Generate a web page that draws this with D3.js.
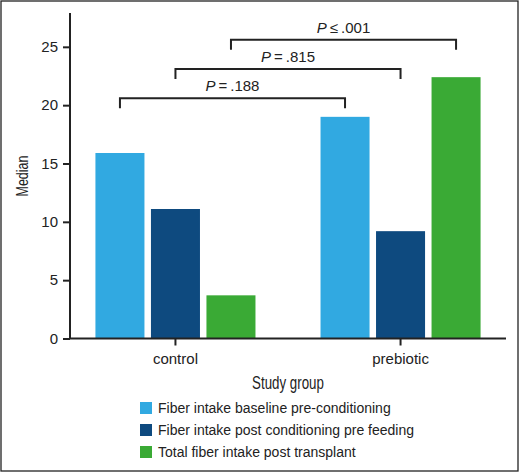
<!DOCTYPE html>
<html>
<head>
<meta charset="utf-8">
<script src="https://cdn.jsdelivr.net/npm/d3@7"></script>
<style>
  html, body { margin: 0; padding: 0; background: #fff; }
  svg { display: block; font-family: "Liberation Sans", Arial, Helvetica, sans-serif; }
</style>
</head>
<body>
<svg id="chart" width="520" height="473"></svg>
<script>
// data
var groups = ["control", "prebiotic"];
var seriesNames = [
  "Fiber intake baseline pre-conditioning",
  "Fiber intake post conditioning pre feeding",
  "Total fiber intake post transplant"
];
var baseline = [15.9, 19.0];
var postConditioning = [11.1, 9.2];
var postTransplant = [3.7, 22.4];
var yTicks = [0, 5, 10, 15, 20, 25];
var colors = ["#31a9e1", "#0e4a7f", "#3aaa35"];

// comparisons: series index, bracket level (median units), label
var compSeries = [0, 1, 2];
var compLevels = [20.6, 23.1, 25.6];
var compOps = ["=", "=", "\u2264"];
var compValues = [".188", ".815", ".001"];

(function(){
var svg = d3.select("#chart");

// outer frame
svg.append("rect")
   .attr("x", 1).attr("y", 1)
   .attr("width", 517).attr("height", 470)
   .attr("fill", "none").attr("stroke", "#222").attr("stroke-width", 1.3);

var plotLeft = 70, plotRight = 506, plotTop = 13, plotBottom = 338.5;

var y = d3.scaleLinear().domain([0, 27.9]).range([plotBottom, plotTop]);
var x0 = d3.scaleBand().domain(groups).range([plotLeft, plotRight])
           .paddingInner(0.289).paddingOuter(0.113);
var x1 = d3.scaleBand().domain(d3.range(seriesNames.length))
           .range([0, x0.bandwidth()]).paddingInner(0.117);

var values = [baseline, postConditioning, postTransplant];
var cells = [];
groups.forEach(function(g, gi){
  values.forEach(function(s, si){
    cells.push({group: g, series: si, value: s[gi]});
  });
});

svg.append("g").selectAll("rect").data(cells).enter()
   .append("rect")
   .attr("x", function(d){ return x0(d.group) + x1(d.series); })
   .attr("y", function(d){ return y(d.value); })
   .attr("width", x1.bandwidth())
   .attr("height", function(d){ return y(0) - y(d.value); })
   .attr("fill", function(d){ return colors[d.series]; });

// y axis
var yAxis = svg.append("g")
   .attr("transform", "translate(" + plotLeft + ",0)")
   .call(d3.axisLeft(y).tickValues(yTicks).tickSize(7).tickPadding(5));
yAxis.select(".domain").attr("d", "M0," + plotTop + "V" + plotBottom);

// x axis
var xAxis = svg.append("g")
   .attr("transform", "translate(0," + plotBottom + ")")
   .call(d3.axisBottom(x0).tickSize(7).tickPadding(6));
xAxis.select(".domain").attr("d", "M" + plotLeft + ",0H" + plotRight);

svg.selectAll(".tick text").attr("font-size", 15).attr("fill", "#222")
   .style("font-family", "inherit");
svg.selectAll(".domain, .tick line").attr("stroke", "#222").attr("stroke-width", 2);
xAxis.selectAll(".tick text").attr("dy", "0.85em");

// axis titles (condensed look via horizontal squeeze)
svg.append("text")
   .attr("transform", "translate(28,176) rotate(-90) scale(0.78,1)")
   .attr("text-anchor", "middle")
   .attr("font-size", 16).attr("fill", "#222")
   .text("Median");

svg.append("text")
   .attr("transform", "translate(288,389) scale(0.74,1)")
   .attr("text-anchor", "middle")
   .attr("font-size", 18).attr("fill", "#222")
   .text("Study group");

// significance brackets
var barCenter = function(g, si){ return x0(g) + x1(si) + x1.bandwidth() / 2; };
var tickDown = 10;
compSeries.forEach(function(si, i){
  var xa = barCenter(groups[0], si), xb = barCenter(groups[1], si);
  var yl = y(compLevels[i]);
  svg.append("path")
     .attr("d", "M" + xa + "," + (yl + tickDown) + "V" + yl + "H" + xb + "V" + (yl + tickDown))
     .attr("fill", "none").attr("stroke", "#222").attr("stroke-width", 2);
  var t = svg.append("text")
     .attr("x", (xa + xb) / 2).attr("y", yl - 7)
     .attr("text-anchor", "middle")
     .attr("font-size", 15).attr("fill", "#222");
  t.append("tspan").attr("font-style", "italic").text("P");
  t.append("tspan").attr("dx", 3).text(compOps[i]);
  t.append("tspan").attr("dx", 3).text(compValues[i]);
});

// legend
var legend = svg.append("g").attr("transform", "translate(140,402)");
var rows = legend.selectAll("g").data(seriesNames).enter()
   .append("g")
   .attr("transform", function(d, i){ return "translate(0," + (i * 22) + ")"; });
rows.append("rect")
   .attr("width", 12).attr("height", 12)
   .attr("fill", function(d, i){ return colors[i]; });
rows.append("text")
   .attr("x", 18).attr("y", 6).attr("dy", "0.35em")
   .attr("font-size", 14).attr("fill", "#222")
   .text(function(d){ return d; });
})();
</script>
</body>
</html>
